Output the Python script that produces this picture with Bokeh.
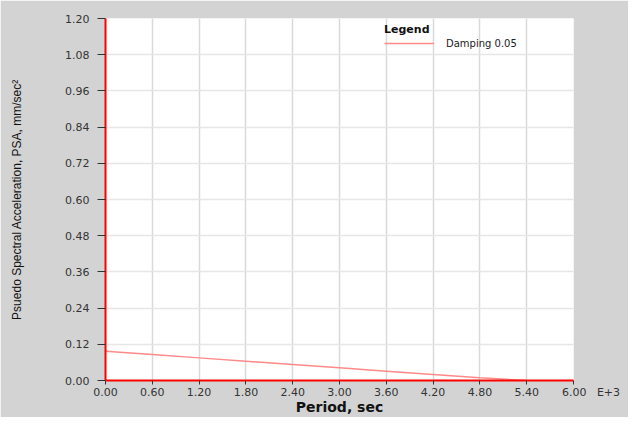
from bokeh.plotting import figure
from bokeh.models import Range1d, FixedTicker, PrintfTickFormatter, Legend, LegendItem
from bokeh.embed import file_html
from bokeh.resources import INLINE

# Data
period = [0.0, 0.6, 1.2, 1.8, 2.4, 3.0, 3.6, 4.2, 4.8, 5.4]
psa = [0.097, 0.086, 0.075, 0.064, 0.053, 0.042, 0.031, 0.020, 0.009, 0.0]
series_name = "Damping 0.05"

x_ticks = [0.0, 0.6, 1.2, 1.8, 2.4, 3.0, 3.6, 4.2, 4.8, 5.4, 6.0]
y_ticks = [0.0, 0.12, 0.24, 0.36, 0.48, 0.60, 0.72, 0.84, 0.96, 1.08, 1.20]

x_title = "Period, sec"
y_title = "Psuedo Spectral Acceleration, PSA, mm/sec\u00b2"
x_exponent = "E+3"

p = figure(width=628, height=417, output_backend="svg", toolbar_location=None,
           x_range=Range1d(0, 6.0), y_range=Range1d(0, 1.2),
           min_border_left=105, min_border_right=55, min_border_top=18, min_border_bottom=30)

p.background_fill_color = "white"
p.border_fill_color = "#d3d3d3"
p.outline_line_color = None

line_color = "#ff8a8a"
r = p.line(period, psa, line_color=line_color, line_width=1.5)

# Axes
for ax in (p.xaxis[0], p.yaxis[0]):
    ax.axis_line_color = "#ff0000"
    ax.axis_line_width = 2
    ax.major_tick_line_color = "#333333"
    ax.major_tick_in = 0
    ax.minor_tick_line_color = None
    ax.major_label_text_font = "DejaVu Sans"
    ax.major_label_text_font_size = "11px"
    ax.major_label_text_color = "#333333"
    ax.formatter = PrintfTickFormatter(format="%.2f")

p.xaxis[0].ticker = FixedTicker(ticks=x_ticks)
p.yaxis[0].ticker = FixedTicker(ticks=y_ticks)
p.xaxis[0].major_tick_out = 4
p.yaxis[0].major_tick_out = 8
p.xaxis[0].major_label_standoff = 1
p.yaxis[0].major_label_standoff = 8

# last x tick carries the exponent marker, padded so "6.00" stays centred on its tick
nb = "\u00a0"
p.xaxis[0].major_label_overrides = {
    x_ticks[-1]: nb * 10 + "%.2f" % x_ticks[-1] + nb * 3 + x_exponent
}

p.xaxis[0].axis_label = x_title
p.xaxis[0].axis_label_text_font = "DejaVu Sans"
p.xaxis[0].axis_label_text_font_style = "bold"
p.xaxis[0].axis_label_text_font_size = "14px"
p.xaxis[0].axis_label_text_color = "#111111"
p.xaxis[0].axis_label_standoff = -3

p.yaxis[0].axis_label = y_title
p.yaxis[0].axis_label_text_font = "Liberation Sans"
p.yaxis[0].axis_label_text_font_style = "normal"
p.yaxis[0].axis_label_text_font_size = "12px"
p.yaxis[0].axis_label_text_color = "#111111"
p.yaxis[0].axis_label_standoff = 38

# Grid
p.xgrid[0].ticker = FixedTicker(ticks=x_ticks)
p.ygrid[0].ticker = FixedTicker(ticks=y_ticks)
p.xgrid[0].grid_line_color = "#d9d9d9"
p.xgrid[0].grid_line_width = 1.5
p.ygrid[0].grid_line_color = "#e6e6e6"
p.ygrid[0].grid_line_width = 1.5

legend = Legend(items=[LegendItem(label=series_name, renderers=[r])],
                location=(275, 327), title="Legend",
                title_text_font="DejaVu Sans", title_text_font_style="bold",
                title_text_font_size="11px", title_text_color="#111111",
                title_standoff=1,
                label_text_font="DejaVu Sans", label_text_font_size="10px",
                label_text_color="#222222",
                glyph_width=50, glyph_height=12, label_standoff=12,
                padding=4, margin=0, spacing=0,
                border_line_alpha=0, background_fill_alpha=0)
p.add_layout(legend)

open("out.html", "w").write(file_html(p, INLINE))
